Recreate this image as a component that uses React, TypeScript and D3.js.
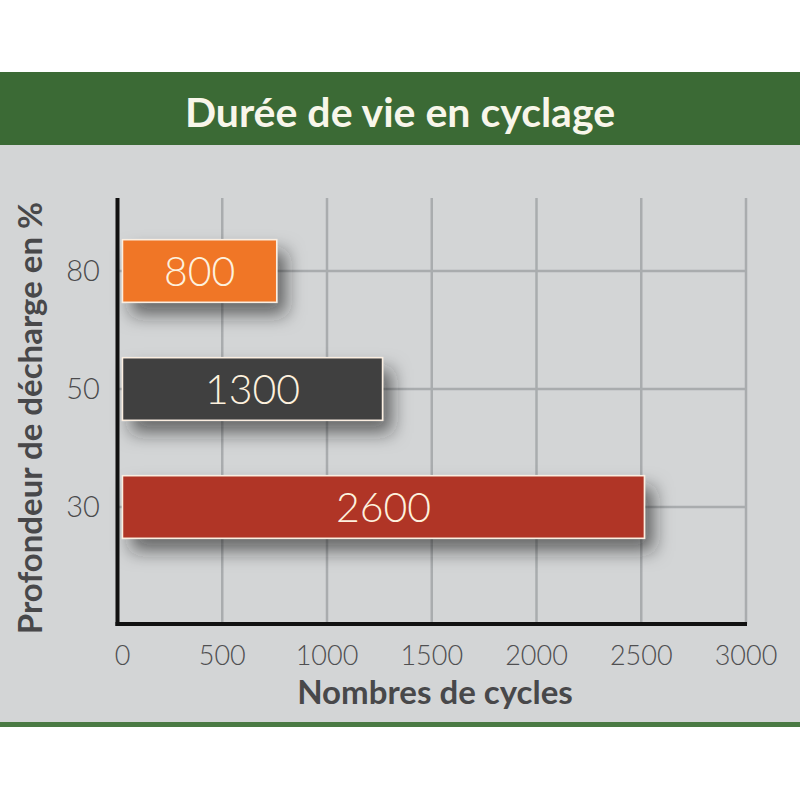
import React from "react";
import * as d3 from "d3";

const categories = ["80", "50", "30"];
const barLengths = [760, 1265, 2515];
const barLabels = ["800", "1300", "2600"];
const barColors = ["#f07628", "#3f3f41", "#b03425"];
const xTicks = [0, 500, 1000, 1500, 2000, 2500, 3000];
const title = "Durée de vie en cyclage";
const xTitle = "Nombres de cycles";
const yTitle = "Profondeur de décharge en %";

export default function App() {
  React.useEffect(() => {
    document.body.style.margin = "0";
  }, []);
  const W = 800, H = 800;
  const x = d3.scaleLinear().domain([0, 3000]).range([117.5, 746]);
  const y = d3.scaleBand().domain(categories).range([212, 566]).paddingInner(0.47).paddingOuter(0.235);
  const plotTop = 198, plotBottom = 624;
  const font = "Lato, 'Open Sans', sans-serif";
  return (
    <svg width={W} height={H} style={{ display: "block" }}>
      <defs>
        <filter id="shadow" x="-20%" y="-60%" width="150%" height="280%">
          <feDropShadow dx="9" dy="12" stdDeviation="9" floodColor="#222" floodOpacity="0.6" />
        </filter>
      </defs>
      <rect x={0} y={0} width={W} height={H} fill="#ffffff" />
      <rect x={0} y={145} width={W} height={578} fill="#d3d5d6" />
      <rect x={0} y={72} width={W} height={73} fill="#3b6a35" />
      <rect x={0} y={722} width={W} height={5} fill="#4a7a44" />
      <text x={400} y={127} textAnchor="middle" fontFamily={font} fontWeight={700} fontSize={41} fill="#f8f6ea">{title}</text>
      {xTicks.slice(1).map((t) => (
        <line key={"g" + t} x1={x(t)} x2={x(t)} y1={plotTop} y2={plotBottom} stroke="#a9acae" strokeWidth={2.5} />
      ))}
      {categories.map((c) => (
        <line key={"h" + c} x1={x(0)} x2={x(3000)} y1={(y(c) as number) + y.bandwidth() / 2} y2={(y(c) as number) + y.bandwidth() / 2} stroke="#a9acae" strokeWidth={2.5} />
      ))}
      {categories.map((c, i) => (
        <g key={"b" + c}>
          <rect x={x(0) + 5} y={y(c) as number} width={x(barLengths[i]) - x(0) - 5} height={y.bandwidth()} fill={barColors[i]} stroke="#fbeee0" strokeWidth={1.5} filter="url(#shadow)" />
          <text x={(x(0) + 5 + x(barLengths[i])) / 2} y={(y(c) as number) + y.bandwidth() / 2 + 15} textAnchor="middle" fontFamily={font} fontWeight={300} fontSize={41} fill="#fdf1de">{barLabels[i]}</text>
        </g>
      ))}
      <line x1={x(0)} x2={x(0)} y1={plotTop} y2={plotBottom + 2} stroke="#111" strokeWidth={4} />
      <line x1={x(0) - 2} x2={x(3000) + 1} y1={plotBottom} y2={plotBottom} stroke="#111" strokeWidth={4} />
      {categories.map((c) => (
        <text key={"yt" + c} x={83} y={(y(c) as number) + y.bandwidth() / 2 + 10} textAnchor="middle" fontFamily={font} fontWeight={300} fontSize={29} fill="#4a4a4c">{c}</text>
      ))}
      {xTicks.map((t) => (
        <text key={"xt" + t} x={t === 0 ? x(t) + 5 : x(t)} y={665} textAnchor="middle" fontFamily={font} fontWeight={300} fontSize={27} fill="#4f4f51">{t}</text>
      ))}
      <text x={435} y={704} textAnchor="middle" fontFamily={font} fontWeight={700} fontSize={33} fill="#48484a">{xTitle}</text>
      <text transform={`translate(42, 418) rotate(-90)`} textAnchor="middle" fontFamily={font} fontWeight={700} fontSize={33} fill="#48484a">{yTitle}</text>
    </svg>
  );
}
